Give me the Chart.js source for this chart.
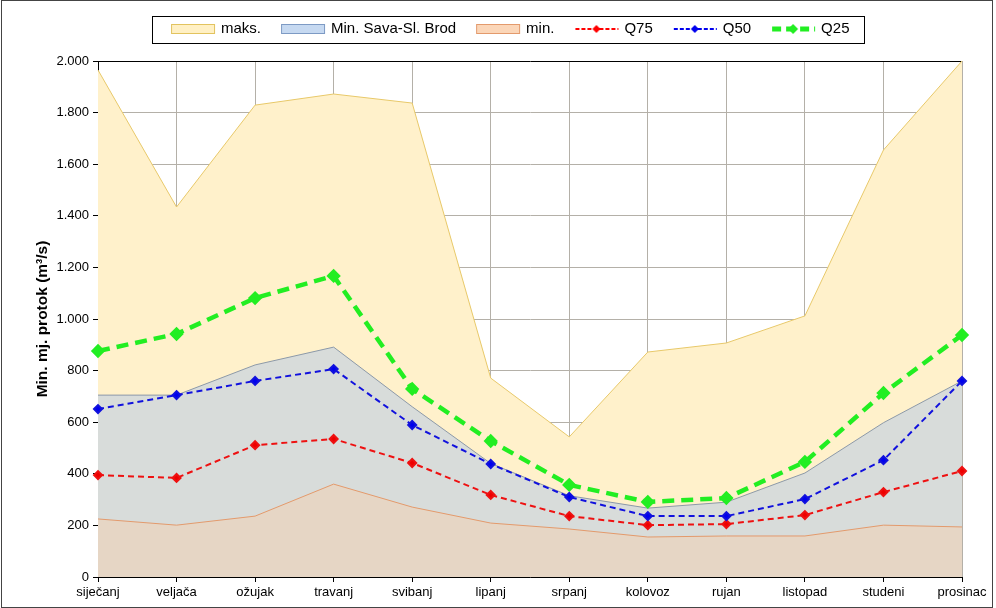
<!DOCTYPE html>
<html>
<head>
<meta charset="utf-8">
<script src="https://cdn.jsdelivr.net/npm/chart.js@4.4.0/dist/chart.umd.min.js"></script>
<style>
  body { margin: 0; background: #fff; }
  #wrap { width: 996px; height: 608px; }
</style>
</head>
<body>
<div id="wrap"><canvas id="protok" width="996" height="608"></canvas></div>
<script>
let months = ['siječanj', 'veljača', 'ožujak', 'travanj', 'svibanj', 'lipanj',
              'srpanj', 'kolovoz', 'rujan', 'listopad', 'studeni', 'prosinac'];

let maks    = [1965, 1434, 1829, 1872, 1837, 771, 543, 872, 907, 1012, 1655, 2000];
let savaMin = [705, 705, 822, 891, 660, 440, 315, 267, 290, 403, 598, 760];
let minVals = [225, 201, 236, 360, 271, 209, 186, 155, 159, 159, 201, 194];
let q75     = [395, 384, 511, 535, 442, 318, 236, 201, 205, 240, 329, 411];
let q50     = [651, 705, 760, 806, 589, 438, 310, 236, 236, 302, 453, 760];
let q25     = [876, 942, 1081, 1167, 729, 527, 357, 291, 306, 446, 713, 938];

// little pictures for the legend (46 px wide, drawn centred on the legend box)
function swatch(fill, border) {
  let c = document.createElement('canvas');
  c.width = 46; c.height = 12;
  let g = c.getContext('2d');
  g.fillStyle = fill;
  g.fillRect(1.5, 1.5, 43, 9);
  g.strokeStyle = border;
  g.lineWidth = 1;
  g.strokeRect(1.5, 1.5, 43, 9);
  return c;
}
function lineIcon(color, width, dash, r) {
  let c = document.createElement('canvas');
  c.width = 46; c.height = 14;
  let g = c.getContext('2d');
  g.strokeStyle = color;
  g.lineWidth = width;
  g.setLineDash(dash);
  g.beginPath(); g.moveTo(2, 7); g.lineTo(45, 7); g.stroke();
  g.setLineDash([]);
  g.fillStyle = color;
  g.beginPath(); g.moveTo(23, 7 - r); g.lineTo(23 + r, 7); g.lineTo(23, 7 + r); g.lineTo(23 - r, 7); g.closePath(); g.fill();
  return c;
}

let icons = [
  swatch('#fff0c4', '#e2c35e'),
  swatch('#c6d9f1', '#7d9ac4'),
  swatch('#fbd6b8', '#e39a6c'),
  lineIcon('#ff0000', 2, [4, 2], 4),
  lineIcon('#0000ee', 2, [4, 2], 4),
  lineIcon('#22ee22', 5, [9, 5], 5)
];

function fmt(v) {
  return String(v).replace(/\B(?=(\d{3})+(?!\d))/g, '.');
}

let legendBox = {
  id: 'legendBox',
  afterInit(chart) {
    // legend keeps its item spacing but takes a fixed height above the plot
    let lg = chart.legend;
    let fit = lg.fit;
    lg.fit = function () { fit.call(this); this.height = 61; };
  },
  afterLayout(chart) {
    // centre the legend a bit to the right, like the original
    chart.legend.left += 30;
    chart.legend.right += 30;
  },
  afterDraw(chart) {
    let boxes = chart.legend.legendHitBoxes;
    if (!boxes || !boxes.length) return;
    let l = Math.min(...boxes.map(b => b.left)) - 21;
    let r = Math.max(...boxes.map(b => b.left + b.width)) + 14;
    let t = boxes[0].top - 6;
    let h = boxes[0].height + 12;
    let ctx = chart.ctx;
    ctx.save();
    ctx.strokeStyle = '#000';
    ctx.lineWidth = 1;
    ctx.strokeRect(Math.round(l) + 0.5, Math.round(t) + 0.5, Math.round(r - l), Math.round(h));
    ctx.strokeStyle = '#444';
    ctx.strokeRect(1.5, 0.5, 991, 607);
    ctx.restore();
  }
};

let ctx = document.getElementById('protok').getContext('2d');

let chart = new Chart(ctx, {
  type: 'line',
  data: {
    labels: months,
    datasets: [
      { label: 'maks.', data: maks, fill: 'origin', backgroundColor: '#fff1cb', borderColor: '#e8c96a',
        borderWidth: 1, pointRadius: 0, order: 6 },
      { label: 'Min. Sava-Sl. Brod', data: savaMin, fill: 'origin', backgroundColor: '#d8dcda', borderColor: '#8c99a8',
        borderWidth: 1, pointRadius: 0, order: 5 },
      { label: 'min.', data: minVals, fill: 'origin', backgroundColor: '#e6d6c5', borderColor: '#e39a6c',
        borderWidth: 1, pointRadius: 0, order: 4 },
      { label: 'Q75', data: q75, borderColor: '#ee1111', backgroundColor: '#ee0000', borderWidth: 2,
        borderDash: [6, 4], pointStyle: 'rectRot', pointRadius: 4, order: 3, clip: false },
      { label: 'Q50', data: q50, borderColor: '#1111dd', backgroundColor: '#0000ee', borderWidth: 2,
        borderDash: [6, 4], pointStyle: 'rectRot', pointRadius: 4, order: 2, clip: false },
      { label: 'Q25', data: q25, borderColor: '#22ee22', backgroundColor: '#22ee22', borderWidth: 4.5,
        borderDash: [12, 7], pointStyle: 'rectRot', pointRadius: 4, order: 1, clip: false }
    ]
  },
  options: {
    responsive: false,
    animation: false,
    layout: { padding: { left: 0, right: 34, top: 0, bottom: 0 } },
    elements: { line: { tension: 0 }, point: { borderWidth: 0 } },
    plugins: {
      tooltip: { enabled: false },
      legend: {
        position: 'top',
        labels: {
          usePointStyle: true,
          pointStyleWidth: 41,
          padding: 21.5,
          color: '#000',
          font: { family: 'Liberation Sans, Arial', size: 15 },
          generateLabels: function (c) {
            return c.data.datasets.map((d, i) => ({
              text: d.label,
              pointStyle: icons[i],
              datasetIndex: i,
              lineWidth: 0,
              fontColor: '#000'
            }));
          }
        }
      }
    },
    scales: {
      x: {
        offset: false,
        grid: { color: '#b4b0a8', tickColor: '#000', tickLength: 5, drawTicks: true },
        border: { color: '#000', width: 1 },
        ticks: { color: '#000', padding: 3, maxRotation: 0, autoSkip: false,
                 font: { family: 'Liberation Sans, Arial', size: 13 } },
        afterFit: s => { s.height = 31; }
      },
      y: {
        min: 0, max: 2000,
        grid: { color: c => c.tick && c.tick.value === 2000 ? '#000' : '#b4b0a8', tickColor: '#000', tickLength: 5 },
        border: { color: '#000', width: 1 },
        ticks: { stepSize: 200, color: '#000', padding: 4, callback: v => fmt(v),
                 font: { family: 'Liberation Sans, Arial', size: 13 } },
        title: { display: true, text: 'Min. mj. protok (m³/s)', color: '#000',
                 padding: { top: 33, bottom: 0 },
                 font: { family: 'Liberation Sans, Arial', size: 15.5, weight: 'bold' } },
        afterFit: s => { s.width = 98; }
      }
    }
  },
  plugins: [legendBox]
});
</script>
</body>
</html>
